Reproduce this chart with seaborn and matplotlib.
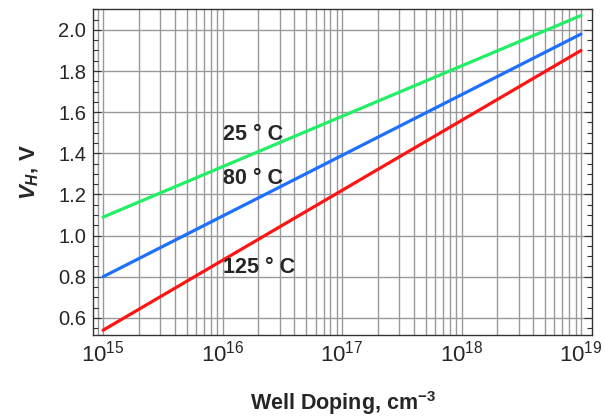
import matplotlib
matplotlib.use("Agg")
import matplotlib.pyplot as plt
import matplotlib.ticker as mticker
import seaborn as sns
import pandas as pd
import numpy as np

# values, one point per decade
doping = [1e15, 1e16, 1e17, 1e18, 1e19]
vh_25 = [1.09, 1.335, 1.58, 1.825, 2.07]
vh_80 = [0.80, 1.095, 1.39, 1.685, 1.98]
vh_125 = [0.54, 0.88, 1.22, 1.56, 1.90]
temps = ["25 ° C", "80 ° C", "125 ° C"]
colors = ["#22ee66", "#1f6fff", "#ff1414"]

df = pd.DataFrame({
    "doping": doping * 3,
    "vh": vh_25 + vh_80 + vh_125,
    "temp": [t for t in temps for _ in doping],
})

sns.set_style("white")
plt.rcParams["font.family"] = ["Liberation Sans", "DejaVu Sans"]
plt.rcParams["mathtext.fontset"] = "custom"
plt.rcParams["mathtext.rm"] = "Liberation Sans"
plt.rcParams["mathtext.it"] = "Liberation Sans:italic:bold"
plt.rcParams["mathtext.bf"] = "Liberation Sans:bold"

fig = plt.figure(figsize=(6.05, 4.18), dpi=100)
ax = fig.add_axes([0.1537, 0.1986, 0.8248, 0.78])

sns.lineplot(data=df, x="doping", y="vh", hue="temp", palette=colors,
             linewidth=2.3, legend=False, ax=ax)

ax.set_xscale("log")
ax.set_xlim(10 ** 14.916, 10 ** 19.092)
ax.set_ylim(0.517, 2.102)

ax.xaxis.set_major_locator(mticker.FixedLocator([1e15, 1e16, 1e17, 1e18, 1e19]))
ax.xaxis.set_minor_locator(mticker.LogLocator(base=10, subs=np.arange(2, 10), numticks=20))
ax.xaxis.set_major_formatter(mticker.FuncFormatter(lambda v, p: r"$10^{%d}$" % round(np.log10(v))))
ax.xaxis.set_minor_formatter(mticker.NullFormatter())
ax.yaxis.set_major_locator(mticker.MultipleLocator(0.2))
ax.yaxis.set_minor_locator(mticker.MultipleLocator(0.05))
ax.yaxis.set_major_formatter(mticker.FormatStrFormatter("%.1f"))

ax.grid(True, which="major", axis="both", color="#999999", lw=1.0)
ax.grid(True, which="minor", axis="x", color="#999999", lw=1.0)

ax.tick_params(axis="y", which="major", direction="in", length=6, width=0.8,
               left=True, right=True, labelsize=14.5, pad=5, color="#333333")
ax.tick_params(axis="y", which="minor", direction="in", length=3.5, width=0.8,
               left=True, right=True, color="#333333")
ax.tick_params(axis="x", which="both", direction="in", length=0, labelsize=16, pad=4)

for s in ax.spines.values():
    s.set_color("#333333")
    s.set_linewidth(1.0)

ax.set_xlabel("Well Doping, cm" + r"$^{\mathbf{-3}}$", fontsize=15.5,
              fontweight="bold", labelpad=16)
ax.set_ylabel(r"$V_H$, V", fontsize=16, fontweight="bold", labelpad=12)

label_y = [1.49, 1.28, 0.843]
for t, y in zip(temps, label_y):
    ax.text(1.0e16, y, t, fontsize=15.5, fontweight="bold", va="center", ha="left")

fig.savefig("out.png", dpi=100)
